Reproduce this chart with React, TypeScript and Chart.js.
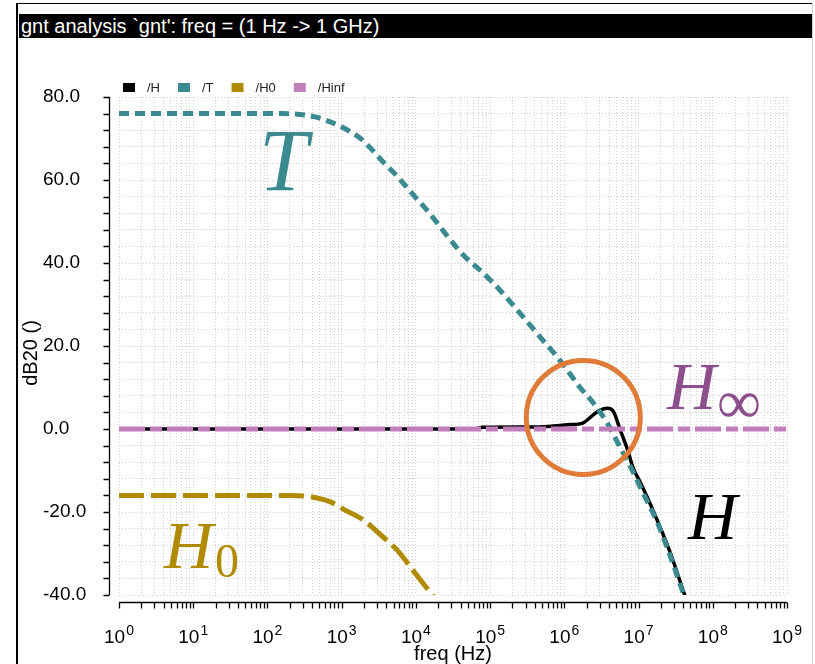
import React, { useEffect, useRef } from 'react';
import { Chart, registerables } from 'chart.js';

Chart.register(...registerables);

// ---------------- data ----------------
const TITLE = "gnt analysis `gnt': freq = (1 Hz -> 1 GHz)";
const SERIES_NAMES = ['/H', '/T', '/H0', '/Hinf'];
const SERIES_COLORS = ['#000000', '#3A8A8F', '#B08A00', '#C07EBB'];

const H_FREQ = [1, 60000, 80000, 470000, 1.1e6, 1.8e6, 2.45e6, 3.0e6, 3.8e6, 4.6e6, 5.6e6, 7.1e6, 8.5e6, 1.05e7, 1.6e7, 2.7e7, 4.0e7, 5.5e7];
const H_DB = [0, 0, 0.4, 0.5, 1.0, 1.5, 3.4, 4.5, 5.0, 4.2, 0.0, -5.0, -9.5, -12.8, -20, -30, -39, -46];

const T_FREQ = [1, 150, 275, 440, 700, 1100, 1800, 2600, 3600, 4900, 7100, 10000, 14000, 19500, 26000, 36000, 49000, 74000, 107000, 135000, 250000, 470000, 870000, 1.6e6, 2.45e6, 3.8e6, 5.6e6, 7.8e6, 1.15e7, 1.8e7, 2.7e7, 4.0e7, 5.5e7];
const T_DB = [76, 76, 75.8, 75.2, 74.0, 72.4, 70.0, 67.2, 64.4, 62.0, 58.8, 55.7, 52.8, 49.6, 46.7, 43.6, 41.0, 38.2, 35.4, 33.5, 28.0, 22.2, 16.6, 10.2, 6.3, 1.4, -4.3, -9.1, -15.4, -22.6, -30.8, -39.5, -46];

const H0_FREQ = [1, 200, 400, 760, 1050, 1950, 3600, 5600, 9100, 16600, 25000];
const H0_DB = [-16, -16, -16.4, -17.8, -19.3, -21.9, -26, -29.2, -34, -40, -44];

const HINF_FREQ = [1, 1e9];
const HINF_DB = [0, 0];

const X_DECADES = [0, 1, 2, 3, 4, 5, 6, 7, 8, 9];
const X_MINOR = [1, 2, 3, 4, 5, 6, 7, 8, 9];
const Y_MIN = -40;
const Y_MAX = 80;
const Y_STEP = 4;
const Y_LABEL_STEP = 20;

// annotation (orange circle) anchored in data space
const CIRCLE_FREQ = 1.8e6;
const CIRCLE_DB = 2.8;

const X_GRID: number[] = [];
X_DECADES.forEach((d) => {
  if (d === X_DECADES[X_DECADES.length - 1]) { X_GRID.push(Math.pow(10, d)); return; }
  X_MINOR.forEach((m) => X_GRID.push(m * Math.pow(10, d)));
});

const toPoints = (f: number[], v: number[]) => f.map((x, i) => ({ x, y: v[i] }));

const SANS = '"Liberation Sans", Arial, Helvetica, sans-serif';
const SERIF = '"Liberation Serif", "Times New Roman", serif';
const GRID_COLOR = '#cfcfcf';

const decor = {
  id: 'decor',
  afterDraw(chart: any) {
    const { ctx, chartArea: ca } = chart;
    const xs = chart.scales.x;
    const ys = chart.scales.y;
    ctx.save();

    // ---- y axis (offset to the left of the plot) ----
    const ax = Math.round(ca.left) - 10 + 0.5;
    ctx.strokeStyle = '#000';
    ctx.lineWidth = 1.3;
    ctx.beginPath();
    ctx.moveTo(ax, ys.getPixelForValue(Y_MAX));
    ctx.lineTo(ax, ys.getPixelForValue(Y_MIN));
    for (let v = Y_MIN; v <= Y_MAX; v += Y_STEP) {
      const py = Math.round(ys.getPixelForValue(v)) + 0.5;
      ctx.moveTo(ax - 6, py);
      ctx.lineTo(ax, py);
    }
    ctx.stroke();

    // ---- x axis (offset below the plot) ----
    const ay = Math.round(ca.bottom) + 7 + 0.5;
    ctx.beginPath();
    ctx.moveTo(xs.getPixelForValue(X_GRID[0]), ay);
    ctx.lineTo(xs.getPixelForValue(X_GRID[X_GRID.length - 1]), ay);
    X_GRID.forEach((v) => {
      const px = Math.round(xs.getPixelForValue(v)) + 0.5;
      ctx.moveTo(px, ay);
      ctx.lineTo(px, ay + 6);
    });
    ctx.stroke();

    // ---- x tick labels 10^n ----
    ctx.fillStyle = '#000';
    ctx.textBaseline = 'alphabetic';
    X_DECADES.forEach((d) => {
      const px = xs.getPixelForValue(Math.pow(10, d));
      ctx.font = `19px ${SANS}`;
      const wb = ctx.measureText('10').width;
      ctx.font = `14px ${SANS}`;
      const we = ctx.measureText(String(d)).width;
      const total = wb + 1 + we;
      const x0 = px - total / 2;
      ctx.textAlign = 'left';
      ctx.font = `19px ${SANS}`;
      ctx.fillText('10', x0, 643);
      ctx.font = `14px ${SANS}`;
      ctx.fillText(String(d), x0 + wb + 1, 635);
    });

    // ---- axis titles ----
    ctx.font = `20px ${SANS}`;
    ctx.textAlign = 'center';
    ctx.fillText('freq (Hz)', (ca.left + ca.right) / 2, 660);
    ctx.save();
    ctx.translate(37, 353);
    ctx.rotate(-Math.PI / 2);
    ctx.textBaseline = 'alphabetic';
    ctx.fillText('dB20 ()', 0, 0);
    ctx.restore();

    // ---- legend ----
    ctx.font = `13px ${SANS}`;
    ctx.textAlign = 'left';
    let lx = ca.left + 4;
    SERIES_NAMES.forEach((name, i) => {
      ctx.fillStyle = SERIES_COLORS[i];
      ctx.fillRect(lx, 83, 12, 9);
      ctx.fillStyle = '#222';
      const tx = lx + 24;
      ctx.fillText(name, tx, 92);
      lx = tx + ctx.measureText(name).width + 18;
    });

    // ---- orange circle ----
    ctx.beginPath();
    ctx.strokeStyle = '#E07B39';
    ctx.lineWidth = 5;
    ctx.arc(xs.getPixelForValue(CIRCLE_FREQ), ys.getPixelForValue(CIRCLE_DB), 57, 0, Math.PI * 2);
    ctx.stroke();

    // ---- math labels ----
    ctx.textAlign = 'left';
    ctx.textBaseline = 'alphabetic';
    ctx.fillStyle = '#3A8A8F';
    ctx.font = `italic 88px ${SERIF}`;
    ctx.fillText('T', 259, 190);

    ctx.fillStyle = '#8C4E8C';
    ctx.font = `italic 68px ${SERIF}`;
    ctx.fillText('H', 667, 409);
    ctx.font = `62px ${SERIF}`;
    ctx.fillText('\u221E', 717, 423);

    ctx.fillStyle = '#000';
    ctx.font = `italic 68px ${SERIF}`;
    ctx.fillText('H', 688, 539);

    ctx.fillStyle = '#B08A00';
    ctx.font = `italic 68px ${SERIF}`;
    ctx.fillText('H', 164, 568);
    ctx.font = `48px ${SERIF}`;
    ctx.fillText('0', 215, 577);

    ctx.restore();
  },
};

export default function App() {
  const ref = useRef<HTMLCanvasElement | null>(null);

  useEffect(() => {
    if (!ref.current) return;
    const chart = new Chart(ref.current, {
      type: 'line',
      data: {
        datasets: [
          {
            label: SERIES_NAMES[0],
            data: toPoints(H_FREQ, H_DB),
            borderColor: SERIES_COLORS[0],
            borderWidth: 3.5,
            pointRadius: 0,
            cubicInterpolationMode: 'monotone',
            borderJoinStyle: 'round',
            order: 4,
          },
          {
            label: SERIES_NAMES[1],
            data: toPoints(T_FREQ, T_DB),
            borderColor: SERIES_COLORS[1],
            borderWidth: 5,
            borderDash: [10, 6],
            pointRadius: 0,
            cubicInterpolationMode: 'monotone',
            order: 3,
          },
          {
            label: SERIES_NAMES[2],
            data: toPoints(H0_FREQ, H0_DB),
            borderColor: SERIES_COLORS[2],
            borderWidth: 5,
            borderDash: [25, 7],
            pointRadius: 0,
            cubicInterpolationMode: 'monotone',
            order: 2,
          },
          {
            label: SERIES_NAMES[3],
            data: toPoints(HINF_FREQ, HINF_DB),
            borderColor: SERIES_COLORS[3],
            borderWidth: 5,
            borderDash: [26, 5, 12, 5],
            pointRadius: 0,
            order: 1,
          },
        ],
      },
      options: {
        responsive: false,
        animation: false,
        devicePixelRatio: 1,
        events: [],
        layout: { padding: { top: 97, left: 43, right: 28, bottom: 0 } },
        plugins: {
          legend: { display: false },
          tooltip: { enabled: false },
          title: { display: false },
        },
        scales: {
          x: {
            type: 'logarithmic',
            min: 1,
            max: 1e9,
            afterBuildTicks: (s: any) => {
              s.ticks = X_GRID.map((v) => ({ value: v }));
            },
            afterFit: (s: any) => {
              s.height = 69;
            },
            ticks: { display: false, autoSkip: false },
            grid: { color: GRID_COLOR, lineWidth: 1, drawTicks: false },
            border: { display: false, dash: [1, 2] },
          },
          y: {
            type: 'linear',
            min: Y_MIN,
            max: Y_MAX,
            afterFit: (s: any) => {
              s.width = 76;
            },
            ticks: {
              stepSize: Y_STEP,
              autoSkip: false,
              crossAlign: 'far',
              padding: 0,
              color: '#000',
              font: { family: SANS, size: 19 },
              callback: (v: any) => (Math.abs(Number(v) % Y_LABEL_STEP) < 1e-6 ? Number(v).toFixed(1) : ''),
            },
            grid: { color: GRID_COLOR, lineWidth: 1, drawTicks: false },
            border: { display: false, dash: [1, 2] },
          },
        },
      },
      plugins: [decor],
    } as any);
    return () => chart.destroy();
  }, []);

  return (
    <div style={{ position: 'absolute', left: 0, top: 0, width: 815, height: 664, background: '#fff', overflow: 'hidden' }}>
      <canvas ref={ref} width={815} height={664} style={{ position: 'absolute', left: 0, top: 0, width: 815, height: 664 }} />
      <div style={{ position: 'absolute', left: 16, top: 3, width: 797, height: 1, background: '#000' }} />
      <div style={{ position: 'absolute', left: 16, top: 3, width: 1.5, height: 661, background: '#000' }} />
      <div style={{ position: 'absolute', left: 812, top: 3, width: 1, height: 661, background: '#cfcfcf' }} />
      <div
        style={{
          position: 'absolute',
          left: 19,
          top: 14,
          width: 793,
          height: 24,
          background: '#000',
          color: '#fff',
          font: `20px ${SANS}`,
          lineHeight: '24px',
          paddingLeft: 2,
          boxSizing: 'border-box',
          whiteSpace: 'nowrap',
        }}
      >
        {TITLE}
      </div>
    </div>
  );
}
